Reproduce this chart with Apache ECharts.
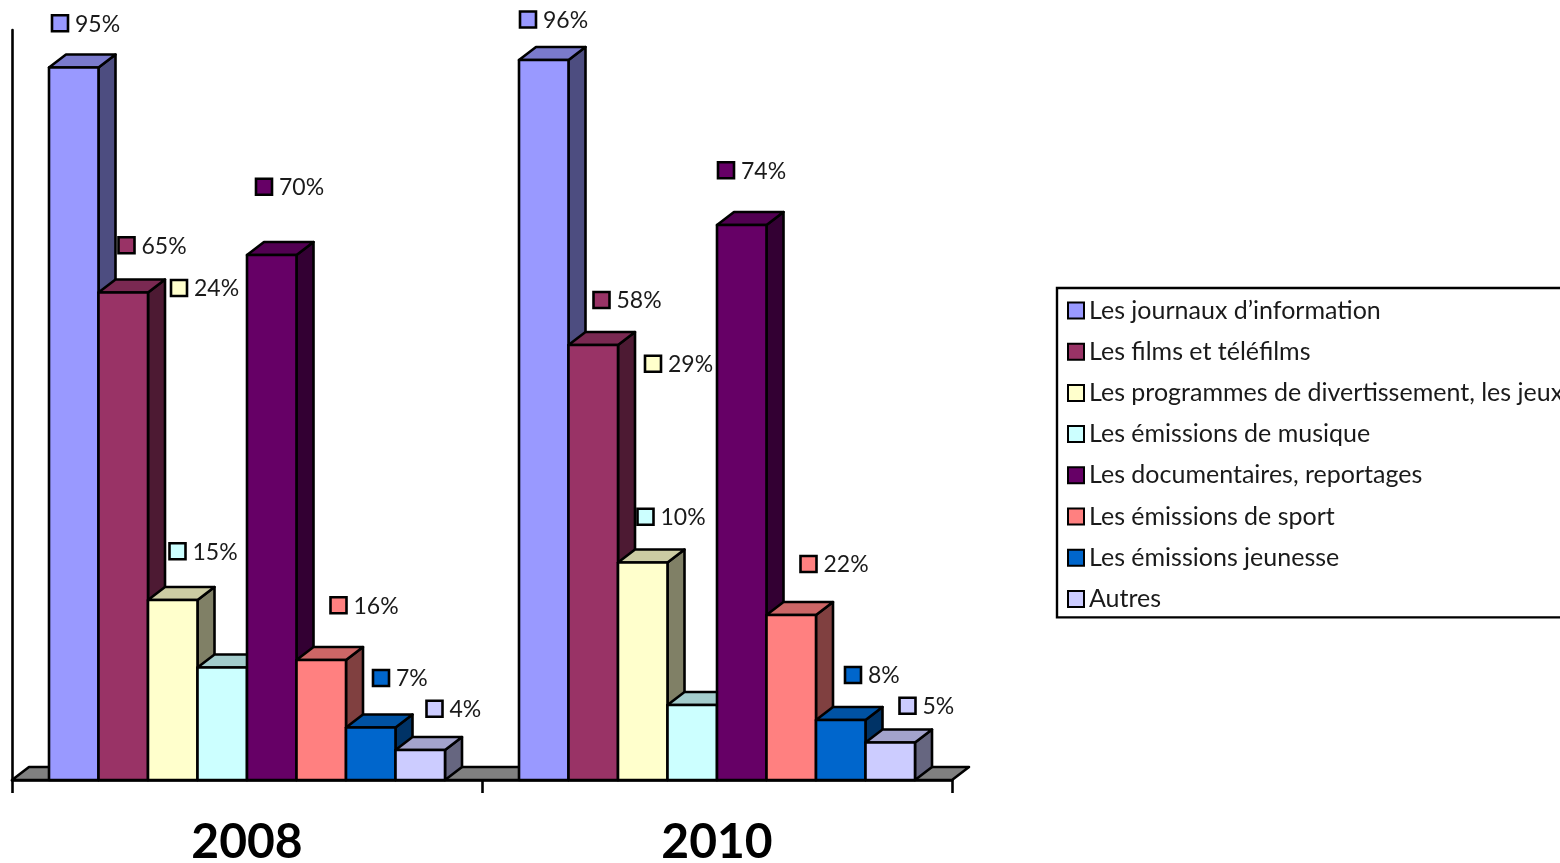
<!DOCTYPE html>
<html lang="fr">
  <head>
    <meta charset="utf-8" />
    <title>Programmes</title>
    <style>
      html, body { margin: 0; padding: 0; background: #fff; overflow: hidden; }
      #chart { width: 1560px; height: 863px; }
    </style>
  </head>
  <body>
    <div id="chart"></div>
    <script src="https://cdn.jsdelivr.net/npm/echarts@6/dist/echarts.min.js"></script>
    <script>
      const years = ["2008", "2010"];
      const seriesNames = [
        "Les journaux d’information",
        "Les films et téléfilms",
        "Les programmes de divertissement, les jeux",
        "Les émissions de musique",
        "Les documentaires, reportages",
        "Les émissions de sport",
        "Les émissions jeunesse",
        "Autres",
      ];
      const values2008 = [95, 65, 24, 15, 70, 16, 7, 4];
      const values2010 = [96, 58, 29, 10, 74, 22, 8, 5];
      const colors = ["#9999FF", "#993366", "#FFFFCC", "#CCFFFF", "#660066", "#FF8080", "#0066CC", "#CCCCFF"];

      // hand-placed data labels in the original: height on the value axis, px shift from bar's left edge
      const labelLevel2008 = [100.9, 71.3, 65.6, 30.5, 79.1, 23.3, 13.6, 9.5];
      const labelLevel2010 = [101.4, 64, 55.5, 35.1, 81.3, 28.8, 14, 9.9];
      const labelShift2008 = [11, 28, 31, -20, 17, 42, 35, 39];
      const labelShift2010 = [9, 33, 35, -22, 9, 42, 37, 42];

      const DEPTH_X = 17;
      const DEPTH_Y = 13;
      const BAR_W = 49.5;
      const LINE_W = 2.6;

      function shade(hex, k) {
        const n = parseInt(hex.slice(1), 16);
        const c = [(n >> 16) & 255, (n >> 8) & 255, n & 255].map((v) => Math.round(v * k));
        return `rgb(${c[0]},${c[1]},${c[2]})`;
      }

      function poly(points, fill) {
        return {
          type: "polygon",
          shape: { points: points },
          style: { fill: fill, stroke: "#000", lineWidth: LINE_W, lineJoin: "round" },
        };
      }

      function bar3d(seriesIdx) {
        return function (params, api) {
          const cat = api.value(0);
          const top = api.coord([cat, api.value(1)]);
          const base = api.coord([cat, 0]);
          const left = top[0] - 4 * BAR_W + seriesIdx * BAR_W;
          const right = left + BAR_W;
          const color = colors[seriesIdx];
          const level = (cat === 0 ? labelLevel2008 : labelLevel2010)[seriesIdx];
          const shift = (cat === 0 ? labelShift2008 : labelShift2010)[seriesIdx];
          const labelY = api.coord([cat, level])[1];
          const labelX = left + shift;
          return {
            type: "group",
            children: [
              poly([[right, top[1]], [right + DEPTH_X, top[1] - DEPTH_Y], [right + DEPTH_X, base[1] - DEPTH_Y], [right, base[1]]], shade(color, 0.5)),
              poly([[left, top[1]], [left + DEPTH_X, top[1] - DEPTH_Y], [right + DEPTH_X, top[1] - DEPTH_Y], [right, top[1]]], shade(color, 0.8)),
              poly([[left, top[1]], [right, top[1]], [right, base[1]], [left, base[1]]], color),
              {
                type: "rect",
                shape: { x: labelX - 8, y: labelY - 8, width: 16, height: 16 },
                style: { fill: color, stroke: "#000", lineWidth: LINE_W },
              },
              {
                type: "text",
                style: {
                  x: labelX + 15,
                  y: labelY + 1,
                  text: api.value(1) + "%",
                  fill: "#1a1a1a",
                  font: "23px Lato",
                  textAlign: "left",
                  textVerticalAlign: "middle",
                },
              },
            ],
          };
        };
      }

      const chart = echarts.init(document.getElementById("chart"), null, { renderer: "canvas" });

      const floorSeries = {
        type: "custom",
        name: "floor",
        silent: true,
        coordinateSystem: "cartesian2d",
        data: [[0, 0]],
        renderItem: function (params, api) {
          const cs = params.coordSys;
          const y = cs.y + cs.height;
          const x0 = cs.x;
          const x1 = cs.x + cs.width;
          return poly([[x0, y], [x0 + DEPTH_X, y - DEPTH_Y], [x1 + DEPTH_X, y - DEPTH_Y], [x1, y]], "#808080");
        },
      };

      const barSeries = seriesNames.map((name, i) => ({
        type: "custom",
        name: name,
        coordinateSystem: "cartesian2d",
        silent: true,
        encode: { x: 0, y: 1 },
        itemStyle: { color: colors[i], borderColor: "#000", borderWidth: LINE_W },
        data: [[0, values2008[i]], [1, values2010[i]]],
        renderItem: bar3d(i),
      }));

      chart.setOption({
        animation: false,
        backgroundColor: "#fff",
        grid: { left: 12, top: 30, width: 940, height: 750, outerBoundsMode: "none" },
        legend: {
          data: seriesNames,
          orient: "vertical",
          left: 1057,
          top: 288,
          padding: [10, 10, 6, 10],
          itemWidth: 16,
          itemHeight: 16,
          itemGap: 16.2,
          icon: "rect",
          selectedMode: false,
          borderColor: "#000",
          borderWidth: 2.4,
          textStyle: { fontFamily: "Lato", fontSize: 25, lineHeight: 24, color: "#1a1a1a" },
        },
        xAxis: {
          type: "category",
          data: years,
          axisLine: { lineStyle: { color: "#000", width: LINE_W } },
          axisTick: { show: true, length: 13, lineStyle: { color: "#000", width: LINE_W } },
          axisLabel: { color: "#000", fontFamily: "Lato", fontWeight: "bold", fontSize: 48, margin: 39 },
          splitLine: { show: false },
        },
        yAxis: {
          type: "value",
          min: 0,
          max: 100,
          axisLine: { show: true, lineStyle: { color: "#000", width: LINE_W } },
          axisTick: { show: false },
          axisLabel: { show: false },
          splitLine: { show: false },
        },
        series: [floorSeries].concat(barSeries),
      });

      window.onresize = function () {
        chart.resize();
      };
    </script>
  </body>
</html>
